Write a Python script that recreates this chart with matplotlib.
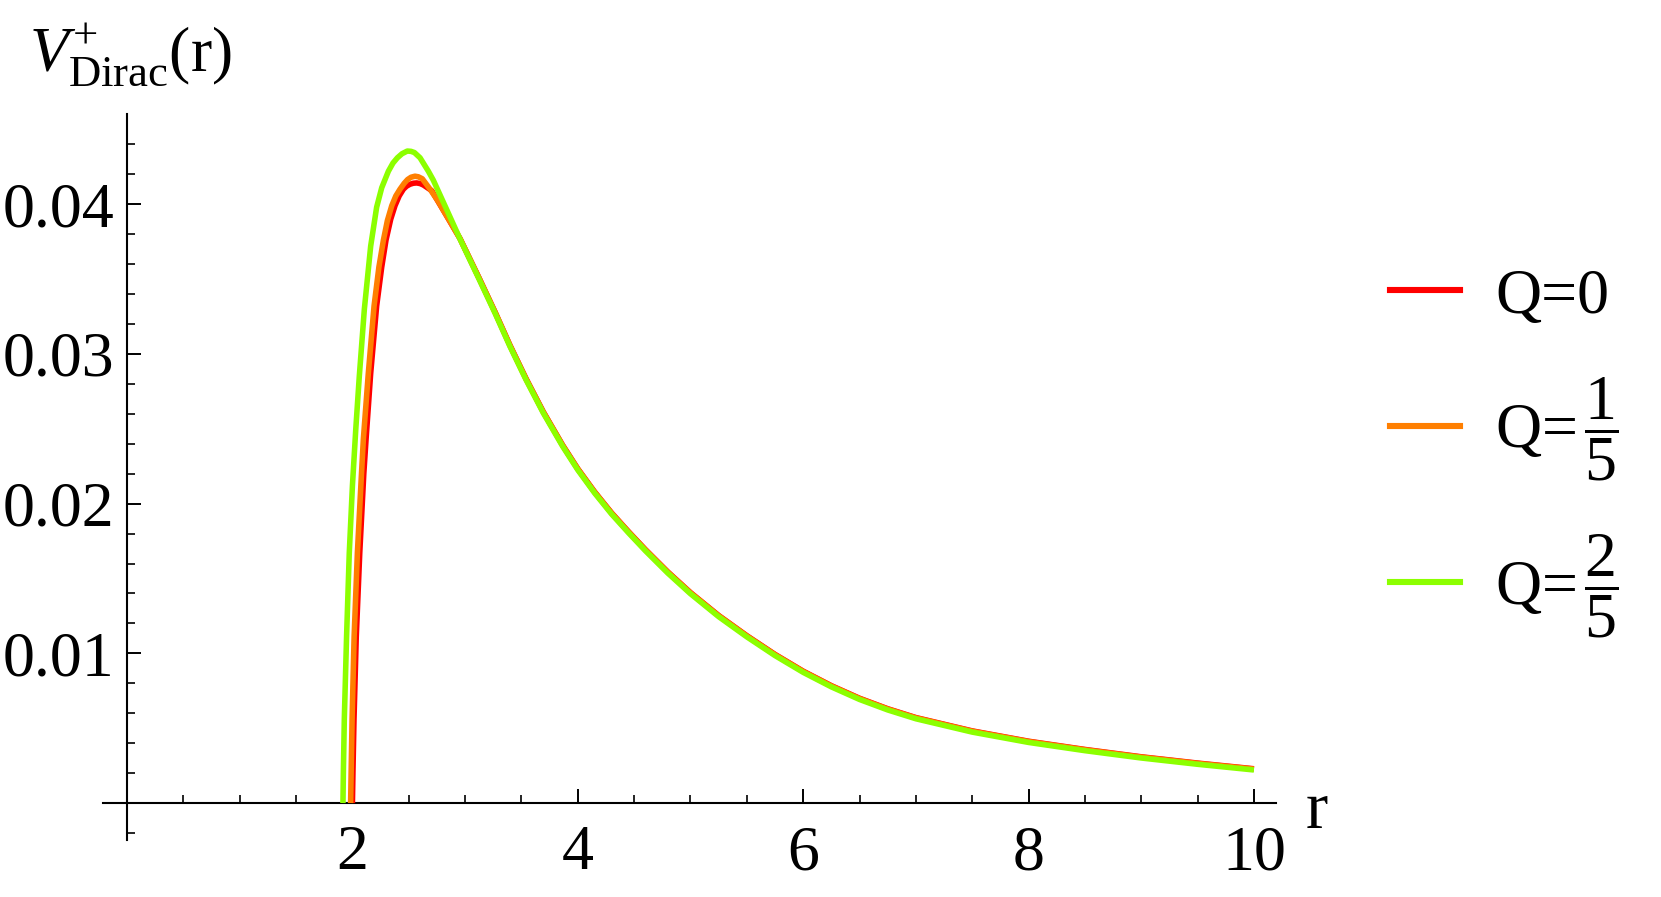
import matplotlib
matplotlib.use('Agg')
import matplotlib.pyplot as plt
from matplotlib.lines import Line2D

plt.rcParams['font.family'] = ['Liberation Serif', 'DejaVu Serif']
plt.rcParams['mathtext.fontset'] = 'custom'
plt.rcParams['mathtext.rm'] = 'Liberation Serif'
plt.rcParams['mathtext.it'] = 'Liberation Serif:italic'

# values
# rising part and peak, one list per charge
r_q0 = [2.000, 2.005, 2.014, 2.034, 2.065, 2.101, 2.121, 2.162, 2.215, 2.26, 2.298, 2.34,
        2.378, 2.415, 2.452, 2.48, 2.51, 2.54, 2.57, 2.60, 2.63, 2.704, 2.83, 2.955]
v_q0 = [0.0, 0.0022, 0.0056, 0.0111, 0.0167, 0.0220, 0.0243, 0.0287, 0.0332, 0.0358, 0.0376,
        0.0390, 0.0399, 0.04055, 0.0410, 0.04120, 0.04133, 0.04140, 0.04142, 0.04138, 0.04128,
        0.0409, 0.0393, 0.0377]

r_q1 = [1.984, 1.989, 1.997, 2.015, 2.044, 2.079, 2.097, 2.141, 2.192, 2.235, 2.275, 2.31,
        2.349, 2.385, 2.422, 2.46, 2.49, 2.52, 2.555, 2.585, 2.62, 2.689, 2.76, 2.83, 2.955]
v_q1 = [0.0, 0.0022, 0.0056, 0.0111, 0.0167, 0.0218, 0.0243, 0.0287, 0.0332, 0.0358, 0.0376,
        0.0389, 0.0399, 0.04055, 0.0410, 0.04140, 0.04165, 0.04180, 0.04187, 0.04183, 0.0417,
        0.0410, 0.0402, 0.0393, 0.0377]

r_q2 = [1.916, 1.920, 1.928, 1.948, 1.972, 2.000, 2.030, 2.061, 2.106, 2.162, 2.215,
        2.26, 2.319, 2.36, 2.399, 2.44, 2.487, 2.52, 2.55, 2.600, 2.674, 2.718, 2.851, 2.955]
v_q2 = [0.0, 0.0022, 0.0056, 0.0111, 0.0167, 0.0212, 0.0250, 0.0285, 0.0330, 0.0372, 0.0398,
        0.0411, 0.0422, 0.04275, 0.0431, 0.04337, 0.04355, 0.04353, 0.04345, 0.0431, 0.0422,
        0.0416, 0.0394, 0.03767]

# common tail, where the three curves nearly overlap
r_tail = [3.126, 3.265, 3.398, 3.540, 3.694, 3.866, 4.0, 4.15, 4.3, 4.45, 4.6, 4.8, 5.0,
          5.25, 5.5, 5.75, 6.0, 6.25, 6.5, 6.75, 7.0, 7.5, 8.0, 8.5, 9.0, 9.5, 10.0]
v_tail_q2 = [0.03496, 0.03273, 0.0305, 0.02828, 0.02605, 0.02382, 0.02225, 0.0207, 0.0193,
             0.01805, 0.01685, 0.01535, 0.01398, 0.01245, 0.01110, 0.00985, 0.00873, 0.00776,
             0.00692, 0.00622, 0.00563, 0.00474, 0.00405, 0.00350, 0.00301, 0.00259, 0.00221]
v_tail_q1 = [0.03502, 0.03279, 0.03056, 0.02834, 0.02611, 0.02388, 0.02231, 0.02076, 0.01936,
             0.01811, 0.01691, 0.01541, 0.01404, 0.01251, 0.01116, 0.00991, 0.00879, 0.00782,
             0.00698, 0.00628, 0.00569, 0.00480, 0.00411, 0.00356, 0.00307, 0.00265, 0.00227]
v_tail_q0 = [0.03504, 0.03281, 0.03058, 0.02836, 0.02613, 0.02390, 0.02233, 0.02078, 0.01938,
             0.01813, 0.01693, 0.01543, 0.01406, 0.01253, 0.01118, 0.00993, 0.00881, 0.00784,
             0.00700, 0.00630, 0.00571, 0.00482, 0.00413, 0.00358, 0.00309, 0.00267, 0.00229]

labels = ['Q=0', r'Q=$\,\dfrac{1}{5}$', r'Q=$\,\dfrac{2}{5}$']
colors = ['#ff0000', '#ff7f00', '#8cff00']

x_major = [2, 4, 6, 8, 10]
x_minor = [0.5, 1, 1.5, 2.5, 3, 3.5, 4.5, 5, 5.5, 6.5, 7, 7.5, 8.5, 9, 9.5]
y_major = [0.01, 0.02, 0.03, 0.04]
y_labels = ['0.01', '0.02', '0.03', '0.04']
y_minor = [-0.002, 0.002, 0.004, 0.006, 0.008, 0.012, 0.014, 0.016, 0.018, 0.022, 0.024,
           0.026, 0.028, 0.032, 0.034, 0.036, 0.038, 0.042, 0.044]

fig = plt.figure(figsize=(16.61, 8.97), dpi=100)
ax = fig.add_axes([0.0619, 0.0635, 0.7066, 0.809])

series = [(r_q0, v_q0, v_tail_q0), (r_q1, v_q1, v_tail_q1), (r_q2, v_q2, v_tail_q2)]
for (rr, vv, vt), c in zip(series, colors):
    ax.plot(rr + r_tail, vv + vt, color=c, lw=4.0, solid_capstyle='butt',
            solid_joinstyle='round', zorder=3)

ax.set_xlim(-0.215, 10.2)
ax.set_ylim(-0.00247, 0.046)

ax.spines['left'].set_position(('data', 0))
ax.spines['bottom'].set_position(('data', 0))
ax.spines['top'].set_visible(False)
ax.spines['right'].set_visible(False)
for s in ['left', 'bottom']:
    ax.spines[s].set_linewidth(1.5)

ax.set_xticks(x_major)
ax.set_xticks(x_minor, minor=True)
ax.set_yticks(y_major)
ax.set_yticklabels(y_labels)
ax.set_yticks(y_minor, minor=True)

ax.tick_params(which='major', direction='in', length=10, width=1.4, labelsize=46)
ax.tick_params(which='minor', direction='in', length=6, width=1.2)
ax.tick_params(axis='x', which='major', pad=16)
ax.tick_params(axis='y', which='major', pad=9)

fig.text(29 / 1661, 1 - 72 / 897, r'$V^{+}_{\mathrm{Dirac}}(\mathrm{r})$',
         ha='left', va='baseline', fontsize=46)
fig.text(1317 / 1661, 1 - 828 / 897, 'r', ha='center', va='baseline', fontsize=48)

handles = [Line2D([], [], color=c, lw=4.4) for c in colors]
fig.legend(handles, labels, loc='center left', bbox_to_anchor=(1390 / 1661, 1 - 454 / 897),
           frameon=False, fontsize=46, handlelength=1.1, handletextpad=0.55,
           labelspacing=0.76, borderpad=0, borderaxespad=0)

fig.savefig('out.png', dpi=100)
